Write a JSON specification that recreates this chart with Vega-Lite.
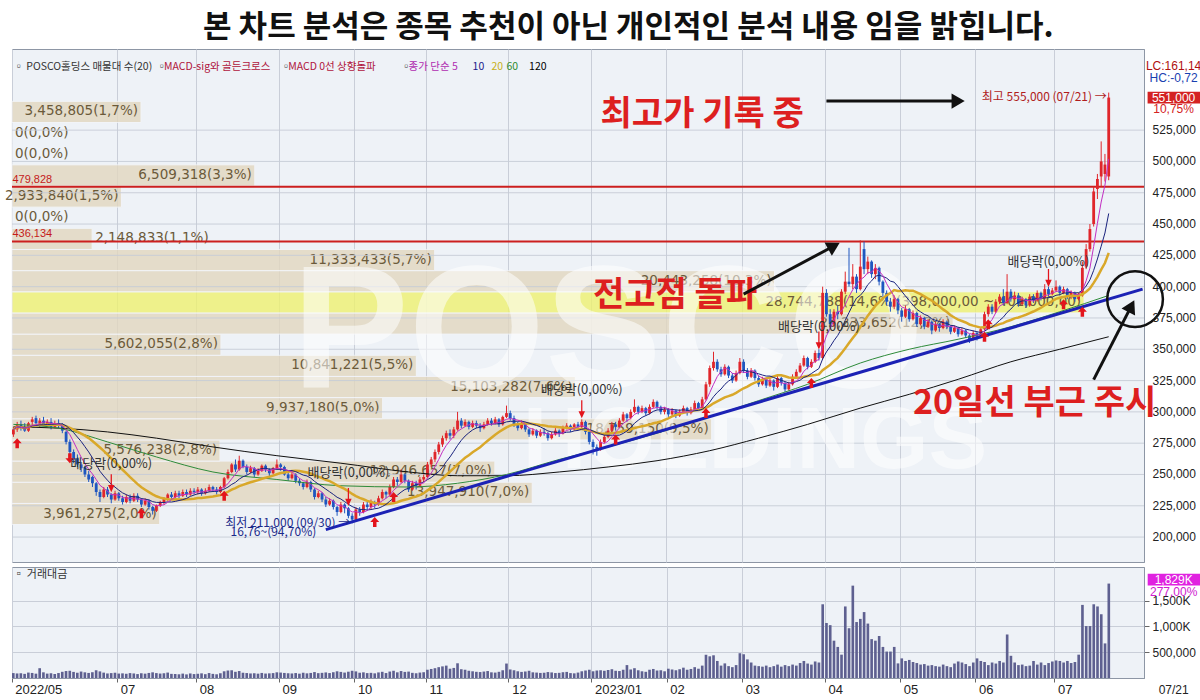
{
"$schema": "https://vega.github.io/schema/vega-lite/v6.json",
"background": "#ffffff",
"padding": {"left": 4, "top": 11, "right": 2, "bottom": 0},
"title": {"text": "본 차트 분석은 종목 추천이 아닌 개인적인 분석 내용 임을 밝힙니다.", "font": "Noto Sans CJK KR", "fontSize": 31, "fontWeight": "bold", "color": "#111111", "anchor": "middle", "offset": 5, "dx": 24},
"config": {
  "font": "Noto Sans CJK KR",
  "view": {"stroke": "#8d96a5", "fill": "#eef2f7"},
  "axis": {"labelFont": "Liberation Sans Narrow, Liberation Sans, sans-serif", "labelFontSize": 12, "labelColor": "#222222", "gridColor": "#c9ced8", "gridWidth": 1, "domainColor": "#8d96a5", "tickColor": "#666666", "labelOverlap": false}
},
"spacing": 3,
"datasets": {
"k": [
{"d":"2022-05-20","o":282,"h":288,"l":280,"c":286,"v":95},
{"d":"2022-05-23","o":286,"h":292,"l":284,"c":290,"v":88},
{"d":"2022-05-24","o":290,"h":293,"l":285,"c":287,"v":92},
{"d":"2022-05-25","o":288,"h":291,"l":284,"c":285,"v":80},
{"d":"2022-05-26","o":285,"h":292,"l":284,"c":291,"v":105},
{"d":"2022-05-27","o":292,"h":296,"l":289,"c":294,"v":98},
{"d":"2022-05-30","o":295,"h":297,"l":290,"c":291,"v":84},
{"d":"2022-05-31","o":291,"h":295,"l":288,"c":293,"v":190},
{"d":"2022-06-02","o":293,"h":296,"l":289,"c":290,"v":110},
{"d":"2022-06-03","o":290,"h":294,"l":288,"c":292,"v":85},
{"d":"2022-06-07","o":292,"h":295,"l":286,"c":288,"v":92},
{"d":"2022-06-08","o":288,"h":293,"l":287,"c":291,"v":78},
{"d":"2022-06-09","o":291,"h":294,"l":287,"c":289,"v":96},
{"d":"2022-06-10","o":289,"h":291,"l":283,"c":285,"v":120},
{"d":"2022-06-13","o":284,"h":285,"l":274,"c":276,"v":135},
{"d":"2022-06-14","o":276,"h":278,"l":266,"c":268,"v":140},
{"d":"2022-06-15","o":268,"h":270,"l":259,"c":262,"v":118},
{"d":"2022-06-16","o":263,"h":266,"l":256,"c":258,"v":102},
{"d":"2022-06-17","o":258,"h":260,"l":252,"c":255,"v":125},
{"d":"2022-06-20","o":256,"h":257,"l":248,"c":250,"v":110},
{"d":"2022-06-21","o":250,"h":253,"l":244,"c":246,"v":98},
{"d":"2022-06-22","o":248,"h":249,"l":240,"c":243,"v":112},
{"d":"2022-06-23","o":243,"h":244,"l":233,"c":236,"v":150},
{"d":"2022-06-24","o":236,"h":238,"l":228,"c":232,"v":128},
{"d":"2022-06-27","o":232,"h":240,"l":231,"c":238,"v":104},
{"d":"2022-06-28","o":238,"h":240,"l":232,"c":234,"v":88},
{"d":"2022-06-29","o":234,"h":235,"l":227,"c":230,"v":95},
{"d":"2022-06-30","o":230,"h":237,"l":229,"c":235,"v":102},
{"d":"2022-07-01","o":235,"h":236,"l":229,"c":231,"v":86},
{"d":"2022-07-04","o":231,"h":233,"l":226,"c":228,"v":90},
{"d":"2022-07-05","o":228,"h":234,"l":227,"c":232,"v":82},
{"d":"2022-07-06","o":232,"h":234,"l":227,"c":229,"v":95},
{"d":"2022-07-07","o":229,"h":235,"l":228,"c":233,"v":88},
{"d":"2022-07-08","o":233,"h":235,"l":228,"c":230,"v":76},
{"d":"2022-07-11","o":230,"h":231,"l":224,"c":226,"v":92},
{"d":"2022-07-12","o":226,"h":231,"l":225,"c":229,"v":84},
{"d":"2022-07-13","o":229,"h":230,"l":222,"c":224,"v":98},
{"d":"2022-07-14","o":224,"h":225,"l":218,"c":221,"v":110},
{"d":"2022-07-15","o":221,"h":226,"l":220,"c":225,"v":95},
{"d":"2022-07-18","o":225,"h":229,"l":224,"c":228,"v":86},
{"d":"2022-07-19","o":228,"h":232,"l":226,"c":231,"v":92},
{"d":"2022-07-20","o":231,"h":235,"l":229,"c":234,"v":105},
{"d":"2022-07-21","o":234,"h":236,"l":230,"c":232,"v":80},
{"d":"2022-07-22","o":232,"h":237,"l":231,"c":235,"v":78},
{"d":"2022-07-25","o":235,"h":237,"l":231,"c":233,"v":72},
{"d":"2022-07-26","o":233,"h":238,"l":232,"c":236,"v":85},
{"d":"2022-07-27","o":236,"h":238,"l":232,"c":234,"v":70},
{"d":"2022-07-28","o":234,"h":239,"l":233,"c":237,"v":88},
{"d":"2022-07-29","o":237,"h":239,"l":234,"c":236,"v":76},
{"d":"2022-08-01","o":236,"h":240,"l":234,"c":238,"v":82},
{"d":"2022-08-02","o":238,"h":239,"l":233,"c":235,"v":90},
{"d":"2022-08-03","o":235,"h":239,"l":234,"c":237,"v":74},
{"d":"2022-08-04","o":237,"h":242,"l":236,"c":240,"v":96},
{"d":"2022-08-05","o":240,"h":241,"l":236,"c":238,"v":80},
{"d":"2022-08-08","o":238,"h":240,"l":234,"c":236,"v":72},
{"d":"2022-08-09","o":236,"h":241,"l":235,"c":240,"v":92},
{"d":"2022-08-10","o":240,"h":248,"l":239,"c":247,"v":130},
{"d":"2022-08-11","o":247,"h":254,"l":246,"c":252,"v":145},
{"d":"2022-08-12","o":252,"h":259,"l":251,"c":258,"v":150},
{"d":"2022-08-16","o":258,"h":262,"l":252,"c":254,"v":120},
{"d":"2022-08-17","o":254,"h":265,"l":253,"c":261,"v":135},
{"d":"2022-08-18","o":261,"h":262,"l":255,"c":256,"v":102},
{"d":"2022-08-19","o":256,"h":258,"l":250,"c":252,"v":96},
{"d":"2022-08-22","o":252,"h":257,"l":251,"c":255,"v":88},
{"d":"2022-08-23","o":255,"h":256,"l":248,"c":250,"v":92},
{"d":"2022-08-24","o":250,"h":255,"l":249,"c":253,"v":84},
{"d":"2022-08-25","o":253,"h":258,"l":252,"c":257,"v":98},
{"d":"2022-08-26","o":257,"h":258,"l":252,"c":254,"v":86},
{"d":"2022-08-29","o":254,"h":255,"l":248,"c":251,"v":90},
{"d":"2022-08-30","o":251,"h":256,"l":250,"c":255,"v":95},
{"d":"2022-08-31","o":255,"h":262,"l":254,"c":258,"v":110},
{"d":"2022-09-01","o":258,"h":259,"l":253,"c":256,"v":105},
{"d":"2022-09-02","o":256,"h":257,"l":249,"c":250,"v":98},
{"d":"2022-09-05","o":250,"h":252,"l":245,"c":247,"v":92},
{"d":"2022-09-06","o":247,"h":252,"l":246,"c":250,"v":88},
{"d":"2022-09-07","o":250,"h":251,"l":243,"c":245,"v":96},
{"d":"2022-09-08","o":245,"h":247,"l":241,"c":243,"v":84},
{"d":"2022-09-13","o":243,"h":244,"l":238,"c":240,"v":102},
{"d":"2022-09-14","o":240,"h":246,"l":239,"c":244,"v":90},
{"d":"2022-09-15","o":244,"h":245,"l":236,"c":238,"v":98},
{"d":"2022-09-16","o":238,"h":239,"l":230,"c":232,"v":115},
{"d":"2022-09-19","o":232,"h":237,"l":231,"c":235,"v":94},
{"d":"2022-09-20","o":235,"h":236,"l":228,"c":230,"v":100},
{"d":"2022-09-21","o":230,"h":232,"l":224,"c":226,"v":108},
{"d":"2022-09-22","o":226,"h":231,"l":225,"c":229,"v":96},
{"d":"2022-09-23","o":229,"h":230,"l":222,"c":224,"v":112},
{"d":"2022-09-26","o":224,"h":225,"l":217,"c":220,"v":130},
{"d":"2022-09-27","o":220,"h":228,"l":219,"c":226,"v":118},
{"d":"2022-09-28","o":226,"h":227,"l":219,"c":223,"v":105},
{"d":"2022-09-29","o":223,"h":224,"l":215,"c":217,"v":122},
{"d":"2022-09-30","o":217,"h":219,"l":211,"c":214,"v":140},
{"d":"2022-10-04","o":214,"h":224,"l":213,"c":222,"v":128},
{"d":"2022-10-05","o":222,"h":224,"l":217,"c":220,"v":102},
{"d":"2022-10-06","o":220,"h":228,"l":219,"c":226,"v":110},
{"d":"2022-10-07","o":226,"h":228,"l":221,"c":224,"v":95},
{"d":"2022-10-11","o":224,"h":230,"l":222,"c":228,"v":100},
{"d":"2022-10-12","o":228,"h":229,"l":223,"c":226,"v":90},
{"d":"2022-10-13","o":226,"h":233,"l":225,"c":231,"v":108},
{"d":"2022-10-14","o":231,"h":238,"l":230,"c":236,"v":120},
{"d":"2022-10-17","o":236,"h":237,"l":231,"c":234,"v":96},
{"d":"2022-10-18","o":234,"h":242,"l":233,"c":240,"v":125},
{"d":"2022-10-19","o":240,"h":248,"l":239,"c":246,"v":140},
{"d":"2022-10-20","o":246,"h":248,"l":241,"c":244,"v":110},
{"d":"2022-10-21","o":244,"h":254,"l":243,"c":250,"v":135},
{"d":"2022-10-24","o":250,"h":251,"l":243,"c":245,"v":118},
{"d":"2022-10-25","o":245,"h":246,"l":236,"c":238,"v":124},
{"d":"2022-10-26","o":238,"h":245,"l":237,"c":243,"v":100},
{"d":"2022-10-27","o":243,"h":245,"l":238,"c":241,"v":92},
{"d":"2022-10-28","o":241,"h":248,"l":240,"c":246,"v":105},
{"d":"2022-10-31","o":246,"h":250,"l":244,"c":248,"v":112},
{"d":"2022-11-01","o":248,"h":260,"l":247,"c":258,"v":160},
{"d":"2022-11-02","o":258,"h":264,"l":256,"c":262,"v":175},
{"d":"2022-11-03","o":262,"h":270,"l":260,"c":268,"v":190},
{"d":"2022-11-04","o":268,"h":276,"l":266,"c":274,"v":210},
{"d":"2022-11-07","o":274,"h":281,"l":272,"c":279,"v":225},
{"d":"2022-11-08","o":279,"h":285,"l":277,"c":283,"v":240},
{"d":"2022-11-09","o":283,"h":286,"l":278,"c":281,"v":180},
{"d":"2022-11-10","o":281,"h":288,"l":279,"c":286,"v":195},
{"d":"2022-11-11","o":286,"h":300,"l":285,"c":293,"v":285},
{"d":"2022-11-14","o":293,"h":295,"l":287,"c":289,"v":170},
{"d":"2022-11-15","o":289,"h":294,"l":288,"c":292,"v":160},
{"d":"2022-11-16","o":292,"h":293,"l":286,"c":288,"v":140},
{"d":"2022-11-17","o":288,"h":293,"l":287,"c":291,"v":130},
{"d":"2022-11-18","o":291,"h":293,"l":287,"c":289,"v":120},
{"d":"2022-11-21","o":289,"h":291,"l":284,"c":287,"v":115},
{"d":"2022-11-22","o":287,"h":292,"l":286,"c":290,"v":125},
{"d":"2022-11-23","o":290,"h":295,"l":289,"c":293,"v":135},
{"d":"2022-11-24","o":293,"h":295,"l":289,"c":291,"v":110},
{"d":"2022-11-25","o":291,"h":296,"l":290,"c":294,"v":105},
{"d":"2022-11-28","o":294,"h":295,"l":288,"c":290,"v":120},
{"d":"2022-11-29","o":290,"h":297,"l":289,"c":296,"v":150},
{"d":"2022-11-30","o":296,"h":305,"l":295,"c":299,"v":280},
{"d":"2022-12-01","o":299,"h":301,"l":293,"c":295,"v":165},
{"d":"2022-12-02","o":295,"h":297,"l":288,"c":290,"v":150},
{"d":"2022-12-05","o":290,"h":292,"l":285,"c":287,"v":130},
{"d":"2022-12-06","o":287,"h":293,"l":286,"c":291,"v":118},
{"d":"2022-12-07","o":291,"h":292,"l":284,"c":286,"v":125},
{"d":"2022-12-08","o":286,"h":287,"l":280,"c":282,"v":140},
{"d":"2022-12-09","o":282,"h":287,"l":281,"c":285,"v":110},
{"d":"2022-12-12","o":285,"h":286,"l":279,"c":281,"v":105},
{"d":"2022-12-13","o":281,"h":286,"l":280,"c":284,"v":98},
{"d":"2022-12-14","o":284,"h":287,"l":281,"c":283,"v":102},
{"d":"2022-12-15","o":283,"h":284,"l":277,"c":279,"v":115},
{"d":"2022-12-16","o":279,"h":284,"l":278,"c":282,"v":108},
{"d":"2022-12-19","o":282,"h":287,"l":281,"c":285,"v":96},
{"d":"2022-12-20","o":285,"h":286,"l":280,"c":283,"v":100},
{"d":"2022-12-21","o":283,"h":289,"l":282,"c":287,"v":112},
{"d":"2022-12-22","o":287,"h":291,"l":286,"c":289,"v":118},
{"d":"2022-12-23","o":289,"h":290,"l":284,"c":286,"v":95},
{"d":"2022-12-26","o":286,"h":291,"l":285,"c":290,"v":90},
{"d":"2022-12-27","o":290,"h":292,"l":286,"c":288,"v":105},
{"d":"2022-12-28","o":288,"h":294,"l":287,"c":292,"v":130},
{"d":"2022-12-29","o":292,"h":293,"l":282,"c":284,"v":145},
{"d":"2022-12-30","o":284,"h":285,"l":274,"c":276,"v":160},
{"d":"2023-01-02","o":276,"h":278,"l":266,"c":272,"v":130},
{"d":"2023-01-03","o":272,"h":274,"l":265,"c":270,"v":145},
{"d":"2023-01-04","o":270,"h":278,"l":269,"c":276,"v":150},
{"d":"2023-01-05","o":276,"h":282,"l":275,"c":280,"v":140},
{"d":"2023-01-06","o":280,"h":287,"l":279,"c":285,"v":155},
{"d":"2023-01-09","o":285,"h":292,"l":284,"c":290,"v":170},
{"d":"2023-01-10","o":290,"h":292,"l":285,"c":288,"v":140},
{"d":"2023-01-11","o":288,"h":295,"l":287,"c":293,"v":135},
{"d":"2023-01-12","o":293,"h":300,"l":292,"c":298,"v":160},
{"d":"2023-01-13","o":298,"h":299,"l":292,"c":295,"v":250},
{"d":"2023-01-16","o":295,"h":302,"l":294,"c":300,"v":165},
{"d":"2023-01-17","o":300,"h":310,"l":299,"c":304,"v":190},
{"d":"2023-01-18","o":304,"h":305,"l":298,"c":300,"v":150},
{"d":"2023-01-19","o":300,"h":305,"l":299,"c":303,"v":130},
{"d":"2023-01-20","o":303,"h":304,"l":297,"c":299,"v":120},
{"d":"2023-01-25","o":299,"h":306,"l":298,"c":304,"v":160},
{"d":"2023-01-26","o":304,"h":310,"l":303,"c":308,"v":175},
{"d":"2023-01-27","o":308,"h":309,"l":302,"c":304,"v":145},
{"d":"2023-01-30","o":304,"h":305,"l":298,"c":300,"v":150},
{"d":"2023-01-31","o":300,"h":304,"l":298,"c":302,"v":130},
{"d":"2023-02-01","o":302,"h":303,"l":296,"c":298,"v":180},
{"d":"2023-02-02","o":298,"h":303,"l":297,"c":301,"v":165},
{"d":"2023-02-03","o":301,"h":302,"l":295,"c":297,"v":150},
{"d":"2023-02-06","o":297,"h":302,"l":296,"c":300,"v":170},
{"d":"2023-02-07","o":300,"h":305,"l":299,"c":303,"v":200},
{"d":"2023-02-08","o":303,"h":304,"l":297,"c":299,"v":160},
{"d":"2023-02-09","o":299,"h":304,"l":298,"c":302,"v":175},
{"d":"2023-02-10","o":302,"h":309,"l":301,"c":307,"v":210},
{"d":"2023-02-13","o":307,"h":308,"l":301,"c":303,"v":180},
{"d":"2023-02-14","o":303,"h":312,"l":302,"c":310,"v":240},
{"d":"2023-02-15","o":310,"h":324,"l":309,"c":322,"v":450},
{"d":"2023-02-16","o":322,"h":337,"l":320,"c":335,"v":420},
{"d":"2023-02-17","o":335,"h":348,"l":333,"c":340,"v":440},
{"d":"2023-02-20","o":340,"h":342,"l":332,"c":334,"v":330},
{"d":"2023-02-21","o":334,"h":336,"l":328,"c":330,"v":240},
{"d":"2023-02-22","o":330,"h":338,"l":329,"c":336,"v":283},
{"d":"2023-02-23","o":336,"h":337,"l":327,"c":329,"v":230},
{"d":"2023-02-24","o":329,"h":331,"l":323,"c":325,"v":210},
{"d":"2023-02-27","o":325,"h":333,"l":324,"c":331,"v":250},
{"d":"2023-02-28","o":331,"h":343,"l":330,"c":340,"v":480},
{"d":"2023-03-02","o":340,"h":342,"l":331,"c":333,"v":460},
{"d":"2023-03-03","o":333,"h":335,"l":326,"c":328,"v":360},
{"d":"2023-03-06","o":328,"h":335,"l":327,"c":333,"v":300},
{"d":"2023-03-07","o":333,"h":334,"l":325,"c":327,"v":240},
{"d":"2023-03-08","o":327,"h":329,"l":320,"c":322,"v":230},
{"d":"2023-03-09","o":322,"h":328,"l":321,"c":326,"v":220},
{"d":"2023-03-10","o":326,"h":327,"l":319,"c":321,"v":240},
{"d":"2023-03-13","o":321,"h":327,"l":320,"c":325,"v":210},
{"d":"2023-03-14","o":325,"h":326,"l":317,"c":320,"v":230},
{"d":"2023-03-15","o":320,"h":329,"l":319,"c":327,"v":260},
{"d":"2023-03-16","o":327,"h":328,"l":321,"c":323,"v":220},
{"d":"2023-03-17","o":323,"h":324,"l":316,"c":318,"v":250},
{"d":"2023-03-20","o":318,"h":324,"l":317,"c":322,"v":230},
{"d":"2023-03-21","o":322,"h":330,"l":321,"c":328,"v":260},
{"d":"2023-03-22","o":328,"h":334,"l":327,"c":332,"v":240},
{"d":"2023-03-23","o":332,"h":339,"l":331,"c":337,"v":290},
{"d":"2023-03-24","o":337,"h":345,"l":336,"c":343,"v":330},
{"d":"2023-03-27","o":343,"h":344,"l":334,"c":336,"v":280},
{"d":"2023-03-28","o":336,"h":342,"l":335,"c":340,"v":260},
{"d":"2023-03-29","o":340,"h":349,"l":339,"c":347,"v":320},
{"d":"2023-03-30","o":347,"h":350,"l":341,"c":343,"v":300},
{"d":"2023-03-31","o":343,"h":400,"l":342,"c":395,"v":1428},
{"d":"2023-04-03","o":395,"h":398,"l":376,"c":378,"v":1066},
{"d":"2023-04-04","o":378,"h":382,"l":366,"c":370,"v":1024},
{"d":"2023-04-05","o":370,"h":382,"l":368,"c":380,"v":723},
{"d":"2023-04-06","o":380,"h":385,"l":374,"c":378,"v":602},
{"d":"2023-04-07","o":378,"h":398,"l":377,"c":396,"v":452},
{"d":"2023-04-10","o":396,"h":412,"l":394,"c":404,"v":1386},
{"d":"2023-04-11","o":404,"h":431,"l":400,"c":402,"v":964},
{"d":"2023-04-12","o":402,"h":418,"l":398,"c":408,"v":1789},
{"d":"2023-04-13","o":408,"h":410,"l":395,"c":398,"v":1084},
{"d":"2023-04-14","o":398,"h":437,"l":397,"c":416,"v":1145},
{"d":"2023-04-17","o":430,"h":436,"l":410,"c":414,"v":1277},
{"d":"2023-04-18","o":414,"h":424,"l":410,"c":420,"v":1054},
{"d":"2023-04-19","o":420,"h":421,"l":407,"c":410,"v":753},
{"d":"2023-04-20","o":410,"h":418,"l":406,"c":415,"v":723},
{"d":"2023-04-21","o":415,"h":416,"l":401,"c":404,"v":813},
{"d":"2023-04-24","o":404,"h":405,"l":392,"c":395,"v":602},
{"d":"2023-04-25","o":395,"h":397,"l":385,"c":388,"v":512},
{"d":"2023-04-26","o":388,"h":391,"l":380,"c":384,"v":512},
{"d":"2023-04-27","o":384,"h":393,"l":382,"c":390,"v":602},
{"d":"2023-04-28","o":390,"h":391,"l":378,"c":381,"v":283},
{"d":"2023-05-02","o":381,"h":383,"l":372,"c":376,"v":380},
{"d":"2023-05-03","o":376,"h":385,"l":375,"c":382,"v":330},
{"d":"2023-05-04","o":382,"h":383,"l":372,"c":374,"v":350},
{"d":"2023-05-08","o":374,"h":381,"l":373,"c":379,"v":310},
{"d":"2023-05-09","o":379,"h":380,"l":368,"c":370,"v":290},
{"d":"2023-05-10","o":370,"h":377,"l":369,"c":375,"v":260},
{"d":"2023-05-11","o":375,"h":376,"l":366,"c":368,"v":270},
{"d":"2023-05-12","o":368,"h":374,"l":367,"c":372,"v":240},
{"d":"2023-05-15","o":372,"h":373,"l":362,"c":365,"v":250},
{"d":"2023-05-16","o":365,"h":372,"l":364,"c":370,"v":230},
{"d":"2023-05-17","o":370,"h":371,"l":364,"c":367,"v":220},
{"d":"2023-05-18","o":367,"h":374,"l":366,"c":372,"v":260},
{"d":"2023-05-19","o":372,"h":373,"l":366,"c":368,"v":230},
{"d":"2023-05-22","o":368,"h":369,"l":362,"c":364,"v":210},
{"d":"2023-05-23","o":364,"h":369,"l":363,"c":367,"v":280},
{"d":"2023-05-24","o":367,"h":368,"l":360,"c":362,"v":320},
{"d":"2023-05-25","o":362,"h":367,"l":361,"c":365,"v":300},
{"d":"2023-05-26","o":365,"h":366,"l":359,"c":361,"v":270},
{"d":"2023-05-30","o":361,"h":362,"l":355,"c":358,"v":230},
{"d":"2023-05-31","o":358,"h":365,"l":357,"c":363,"v":300},
{"d":"2023-06-01","o":363,"h":364,"l":357,"c":360,"v":380},
{"d":"2023-06-02","o":360,"h":367,"l":359,"c":366,"v":330},
{"d":"2023-06-05","o":366,"h":380,"l":365,"c":378,"v":310},
{"d":"2023-06-07","o":378,"h":386,"l":376,"c":384,"v":250},
{"d":"2023-06-08","o":384,"h":386,"l":378,"c":380,"v":300},
{"d":"2023-06-09","o":380,"h":390,"l":379,"c":388,"v":280},
{"d":"2023-06-12","o":388,"h":394,"l":386,"c":392,"v":330},
{"d":"2023-06-13","o":392,"h":398,"l":385,"c":387,"v":300},
{"d":"2023-06-14","o":387,"h":410,"l":386,"c":396,"v":843},
{"d":"2023-06-15","o":396,"h":398,"l":388,"c":390,"v":430},
{"d":"2023-06-16","o":390,"h":396,"l":389,"c":393,"v":300},
{"d":"2023-06-19","o":393,"h":395,"l":384,"c":386,"v":250},
{"d":"2023-06-20","o":386,"h":392,"l":385,"c":390,"v":260},
{"d":"2023-06-21","o":390,"h":391,"l":383,"c":385,"v":230},
{"d":"2023-06-22","o":385,"h":394,"l":384,"c":392,"v":240},
{"d":"2023-06-23","o":392,"h":394,"l":387,"c":389,"v":330},
{"d":"2023-06-26","o":389,"h":397,"l":388,"c":395,"v":260},
{"d":"2023-06-27","o":395,"h":396,"l":389,"c":391,"v":300},
{"d":"2023-06-28","o":391,"h":402,"l":390,"c":398,"v":250},
{"d":"2023-06-29","o":398,"h":400,"l":392,"c":394,"v":290},
{"d":"2023-06-30","o":394,"h":399,"l":393,"c":397,"v":320},
{"d":"2023-07-03","o":397,"h":405,"l":396,"c":400,"v":340},
{"d":"2023-07-04","o":400,"h":401,"l":393,"c":395,"v":330},
{"d":"2023-07-05","o":395,"h":400,"l":394,"c":398,"v":300},
{"d":"2023-07-06","o":398,"h":399,"l":390,"c":392,"v":330},
{"d":"2023-07-07","o":392,"h":397,"l":390,"c":395,"v":290},
{"d":"2023-07-10","o":395,"h":396,"l":388,"c":390,"v":310},
{"d":"2023-07-11","o":390,"h":395,"l":389,"c":393,"v":452},
{"d":"2023-07-12","o":393,"h":420,"l":392,"c":415,"v":1416},
{"d":"2023-07-13","o":416,"h":434,"l":414,"c":430,"v":1006},
{"d":"2023-07-14","o":430,"h":450,"l":428,"c":446,"v":1006},
{"d":"2023-07-17","o":450,"h":480,"l":448,"c":476,"v":1428},
{"d":"2023-07-18","o":478,"h":490,"l":470,"c":486,"v":1386},
{"d":"2023-07-19","o":488,"h":516,"l":480,"c":500,"v":1235},
{"d":"2023-07-20","o":490,"h":506,"l":484,"c":497.5,"v":670},
{"d":"2023-07-21","o":488,"h":555,"l":485,"c":551,"v":1829},
{"d":"2023-07-24"},{"d":"2023-07-25"},{"d":"2023-07-26"},{"d":"2023-07-27"},{"d":"2023-07-28"},{"d":"2023-07-31"},{"d":"2023-08-01"},{"d":"2023-08-02"},{"d":"2023-08-03"}
],
"m": [
{"d":"2022-05-20","s":"60","p":290},{"d":"2022-06-09","s":"60","p":287},{"d":"2022-06-28","s":"60","p":276},{"d":"2022-07-15","s":"60","p":264},{"d":"2022-08-05","s":"60","p":252},{"d":"2022-08-31","s":"60","p":246},{"d":"2022-09-27","s":"60","p":241},{"d":"2022-10-25","s":"60","p":240},{"d":"2022-11-11","s":"60","p":243},{"d":"2022-11-30","s":"60","p":250},{"d":"2022-12-20","s":"60","p":262},{"d":"2023-01-06","s":"60","p":272},{"d":"2023-01-27","s":"60","p":283},{"d":"2023-02-16","s":"60","p":296},{"d":"2023-03-08","s":"60","p":309},{"d":"2023-03-27","s":"60","p":322},{"d":"2023-04-14","s":"60","p":339},{"d":"2023-05-04","s":"60","p":350},{"d":"2023-05-24","s":"60","p":358},{"d":"2023-06-15","s":"60","p":368},{"d":"2023-07-04","s":"60","p":380},{"d":"2023-07-21","s":"60","p":393},
{"d":"2022-05-20","s":"120","p":288},{"d":"2022-06-09","s":"120","p":287},{"d":"2022-06-28","s":"120","p":284},{"d":"2022-07-15","s":"120","p":279},{"d":"2022-08-05","s":"120","p":272},{"d":"2022-08-31","s":"120","p":265},{"d":"2022-09-27","s":"120","p":259},{"d":"2022-10-25","s":"120","p":252},{"d":"2022-11-11","s":"120","p":249},{"d":"2022-11-30","s":"120","p":249},{"d":"2022-12-20","s":"120","p":252},{"d":"2023-01-06","s":"120","p":256},{"d":"2023-01-27","s":"120","p":261},{"d":"2023-02-16","s":"120","p":269},{"d":"2023-03-08","s":"120","p":279},{"d":"2023-03-27","s":"120","p":290},{"d":"2023-04-14","s":"120","p":303},{"d":"2023-05-04","s":"120","p":314},{"d":"2023-05-24","s":"120","p":326},{"d":"2023-06-15","s":"120","p":340},{"d":"2023-07-04","s":"120","p":350},{"d":"2023-07-21","s":"120","p":360}
],
"vp": [
{"lo":210.0,"hi":226.9,"v":3961275,"t":"3,961,275(2,0%)"},
{"lo":226.9,"hi":243.8,"v":13947910,"t":"13,947,910(7,0%)"},
{"lo":243.8,"hi":260.7,"v":12946657,"t":"12,946,657(7,0%)"},
{"lo":260.7,"hi":277.6,"v":5576238,"t":"5,576,238(2,8%)"},
{"lo":277.6,"hi":294.5,"v":18759150,"t":"18,759,150(9,5%)"},
{"lo":294.5,"hi":311.4,"v":9937180,"t":"9,937,180(5,0%)"},
{"lo":311.4,"hi":328.3,"v":15103282,"t":"15,103,282(7,6%)"},
{"lo":328.3,"hi":345.2,"v":10841221,"t":"10,841,221(5,5%)"},
{"lo":345.2,"hi":362.1,"v":5602055,"t":"5,602,055(2,8%)"},
{"lo":362.1,"hi":379.0,"v":25233652,"t":"25,233,652(12,7%)"},
{"lo":379.0,"hi":395.9,"v":28744788,"t":"28,744,788(14,6%)(398,000,00 ~ 401,000,00)"},
{"lo":395.9,"hi":412.8,"v":20443258,"t":"20,443,258(10,3%)"},
{"lo":412.8,"hi":429.7,"v":11333433,"t":"11,333,433(5,7%)"},
{"lo":429.7,"hi":446.6,"v":2148833,"t":"2,148,833(1,1%)"},
{"lo":446.6,"hi":463.5,"v":0,"t":"0(0,0%)"},
{"lo":463.5,"hi":480.4,"v":2933840,"t":"2,933,840(1,5%)"},
{"lo":480.4,"hi":497.3,"v":6509318,"t":"6,509,318(3,3%)"},
{"lo":497.3,"hi":514.2,"v":0,"t":"0(0,0%)"},
{"lo":514.2,"hi":531.1,"v":0,"t":"0(0,0%)"},
{"lo":531.1,"hi":548.0,"v":3458805,"t":"3,458,805(1,7%)"}
],
"yt": [
{"d":"2023-08-03","p":200,"t":"200,000"},{"d":"2023-08-03","p":225,"t":"225,000"},{"d":"2023-08-03","p":250,"t":"250,000"},{"d":"2023-08-03","p":275,"t":"275,000"},{"d":"2023-08-03","p":300,"t":"300,000"},{"d":"2023-08-03","p":325,"t":"325,000"},{"d":"2023-08-03","p":350,"t":"350,000"},{"d":"2023-08-03","p":375,"t":"375,000"},{"d":"2023-08-03","p":400,"t":"400,000"},{"d":"2023-08-03","p":425,"t":"425,000"},{"d":"2023-08-03","p":450,"t":"450,000"},{"d":"2023-08-03","p":475,"t":"475,000"},{"d":"2023-08-03","p":500,"t":"500,000"},{"d":"2023-08-03","p":525,"t":"525,000"}
],
"sig": [
{"d":"2022-05-23","p":275,"s":"up"},{"d":"2022-07-11","p":219,"s":"up"},{"d":"2022-08-10","p":233,"s":"up"},{"d":"2022-10-12","p":212,"s":"up"},{"d":"2022-10-19","p":232,"s":"up"},{"d":"2023-01-10","p":278,"s":"up"},{"d":"2023-02-15","p":299,"s":"up"},{"d":"2023-03-28","p":323,"s":"up"},{"d":"2023-06-05","p":360,"s":"up"},{"d":"2023-06-07","p":370,"s":"up"},{"d":"2023-07-05","p":386,"s":"up"},{"d":"2023-07-12","p":380,"s":"up"},{"d":"2022-06-14","p":263,"s":"down"}
],
"ex": [
{"d":"2022-06-29","p":243},{"d":"2022-09-29","p":232},{"d":"2022-12-28","p":302},{"d":"2023-03-30","p":357},{"d":"2023-06-29","p":407}
],
"ann": [
{"d":"2023-01-04","p":537.2,"t":"최고가 기록 중","k":"big"},
{"d":"2023-01-02","p":392.3,"t":"전고점 돌파","k":"big"},
{"d":"2023-05-08","p":306.2,"t":"20일선 부근 주시","k":"big"},
{"d":"2022-06-29","p":258.4,"t":"배당락(0,00%)","k":"ex"},
{"d":"2022-09-29","p":251.4,"t":"배당락(0,00%)","k":"ex"},
{"d":"2022-12-28","p":317.1,"t":"배당락(0,00%)","k":"ex"},
{"d":"2023-03-30","p":368,"t":"배당락(0,00%)","k":"ex"},
{"d":"2023-06-29","p":420,"t":"배당락(0,00%)","k":"ex"},
{"d":"2022-09-30","p":211.5,"t":"최저 211,000 (09/30) →","k":"low"},
{"d":"2022-09-19","p":203.7,"t":"16,76~(94,70%)","k":"low"},
{"d":"2023-07-21","p":551.6,"t":"최고 555,000 (07/21) →","k":"high"}
],
"arr": [
{"g":"a1","d":"2023-04-03","p":548.2},{"g":"a1","d":"2023-05-24","p":548.2},
{"g":"a2","d":"2023-03-02","p":394},{"g":"a2","d":"2023-04-05","p":432.5},
{"g":"a3","d":"2023-07-17","p":325.8},{"g":"a3","d":"2023-07-31","p":384.4}
],
"hl": [{"d":"2022-05-20","p":479.828,"t":"479,828"},{"d":"2022-05-20","p":436.134,"t":"436,134"}],
"tl": [{"d":"2022-09-21","p":206},{"d":"2023-08-03","p":398}],
"hdr": [
{"d":"2022-05-20","p":575.6,"t":"▫ POSCO홀딩스 매물대 수(20)","c":"name"},
{"d":"2022-07-15","p":575.6,"t":"▫","c":"name"},
{"d":"2022-07-19","p":575.6,"t":"MACD-sig와 골든크로스","c":"macd"},
{"d":"2022-09-01","p":575.6,"t":"▫","c":"name"},
{"d":"2022-09-05","p":575.6,"t":"MACD 0선 상향돌파","c":"macd"},
{"d":"2022-10-21","p":575.6,"t":"▫","c":"name"},
{"d":"2022-10-25","p":575.6,"t":"종가 단순 5","c":"ma5"},
{"d":"2022-11-17","p":575.6,"t":"10","c":"ma10"},
{"d":"2022-11-24","p":575.6,"t":"20","c":"ma20"},
{"d":"2022-11-30","p":575.6,"t":"60","c":"ma60"},
{"d":"2022-12-08","p":575.6,"t":"120","c":"ma120"}
],
"rs": [
{"d":"2023-08-03","p":551,"t":"551,000","c":"w"},{"d":"2023-08-03","p":542,"t":"10,75%","c":"r"},{"d":"2023-08-03","p":576.5,"t":"LC:161,14","c":"r2"},{"d":"2023-08-03","p":567,"t":"HC:-0,72","c":"b"}
]
},
"vconcat": [
{
 "width": 1132, "height": 513,
 "resolve": {"scale": {"x": "independent", "color": "independent"}},
 "layer": [
  {
   "data": {"name": "vp"},
   "layer": [
    {"mark": {"type": "bar", "orient": "horizontal", "opacity": 0.8, "stroke": "#f3f5f9", "strokeWidth": 1},
     "encoding": {
      "x": {"field": "v", "type": "quantitative", "scale": {"domain": [0, 30350000], "nice": false}, "axis": null},
      "y": {"field": "lo", "type": "quantitative", "title": null, "scale": {"domain": [184.1, 585.8], "nice": false, "zero": false},
            "axis": {"orient": "right", "labels": false, "grid": false, "ticks": false, "domain": true, "title": null}},
      "y2": {"field": "hi"},
      "color": {"condition": {"test": "datum.v > 28000000", "value": "#eef171"}, "value": "#e2d7c0"}
     }},
    {"transform": [{"filter": "datum.v >= 2600000"}],
     "mark": {"type": "text", "align": "right", "baseline": "bottom", "dx": -3, "dy": -4, "font": "DejaVu Sans", "fontSize": 13.5, "color": "#6b5a3a"},
     "encoding": {"x": {"field": "v", "type": "quantitative"}, "y": {"field": "lo", "type": "quantitative", "title": null}, "text": {"field": "t"}}},
    {"transform": [{"filter": "datum.v < 2600000"}],
     "mark": {"type": "text", "align": "left", "baseline": "bottom", "dx": 3, "dy": -4, "font": "DejaVu Sans", "fontSize": 13.5, "color": "#6b5a3a"},
     "encoding": {"x": {"field": "v", "type": "quantitative"}, "y": {"field": "lo", "type": "quantitative", "title": null}, "text": {"field": "t"}}}
   ]
  },
  {
   "resolve": {"scale": {"color": "independent"}},
   "layer": [
    {"data": {"name": "k"}, "mark": {"type": "rule", "opacity": 0},
     "encoding": {"x": {"field": "d", "type": "ordinal", "title": null, "scale": {"type": "band", "paddingInner": 0.25, "paddingOuter": 0},
       "axis": {"values": ["2022-05-20","2022-07-01","2022-08-01","2022-09-01","2022-10-04","2022-11-01","2022-12-01","2023-01-02","2023-02-01","2023-03-02","2023-04-03","2023-05-02","2023-06-01","2023-07-03"], "labels": false, "ticks": false, "domain": false, "grid": true, "bandPosition": 0, "title": null}}}},
    {"data": {"name": "yt"}, "mark": {"type": "rule", "color": "#c6ccd6", "strokeWidth": 1, "opacity": 0.9},
     "encoding": {"y": {"field": "p", "type": "quantitative", "title": null, "axis": {"orient": "right", "labels": false, "grid": false, "ticks": false, "domain": true, "title": null}}}},
    {"data": {"values": [{"d": "2023-01-06", "p": 362, "t": "POSCO"}]},
     "mark": {"type": "text", "font": "Liberation Sans", "fontWeight": "bold", "fontSize": 175, "color": "#ffffff", "opacity": 0.55, "align": "center", "baseline": "middle"},
     "encoding": {"x": {"field": "d", "type": "ordinal"}, "y": {"field": "p", "type": "quantitative", "title": null}, "text": {"field": "t"}}},
    {"data": {"values": [{"d": "2023-03-07", "p": 276, "t": "HOLDINGS"}]},
     "mark": {"type": "text", "font": "Liberation Sans Narrow, Liberation Sans, sans-serif", "fontWeight": "bold", "fontSize": 88, "color": "#ffffff", "opacity": 0.55, "align": "center", "baseline": "middle"},
     "encoding": {"x": {"field": "d", "type": "ordinal"}, "y": {"field": "p", "type": "quantitative", "title": null}, "text": {"field": "t"}}},
    {"data": {"name": "hl"}, "mark": {"type": "rule", "color": "#cc1f1f", "strokeWidth": 2},
     "encoding": {"y": {"field": "p", "type": "quantitative", "title": null}}},
    {"data": {"name": "hl"}, "mark": {"type": "text", "align": "left", "baseline": "bottom", "dx": -1, "dy": -2, "fontSize": 11, "font": "Liberation Sans Narrow, Liberation Sans, sans-serif", "color": "#c41a1a"},
     "encoding": {"x": {"field": "d", "type": "ordinal"}, "y": {"field": "p", "type": "quantitative", "title": null}, "text": {"field": "t"}}},
    {"data": {"name": "k"}, "mark": {"type": "rule", "strokeWidth": 1},
     "encoding": {"x": {"field": "d", "type": "ordinal"},
       "y": {"field": "l", "type": "quantitative", "title": null},
       "y2": {"field": "h"},
       "color": {"condition": {"test": "datum.c >= datum.o", "value": "#e0262b"}, "value": "#1f56c0"}}},
    {"data": {"name": "k"}, "mark": {"type": "bar"},
     "encoding": {"x": {"field": "d", "type": "ordinal"}, "y": {"field": "o", "type": "quantitative", "title": null}, "y2": {"field": "c"},
       "color": {"condition": {"test": "datum.c >= datum.o", "value": "#e0262b"}, "value": "#1f56c0"}}},
    {"data": {"name": "m"}, "transform": [{"filter": "datum.s == '120'"}], "mark": {"type": "line", "color": "#111111", "strokeWidth": 1, "interpolate": "monotone"},
     "encoding": {"x": {"field": "d", "type": "ordinal"}, "y": {"field": "p", "type": "quantitative", "title": null}}},
    {"data": {"name": "m"}, "transform": [{"filter": "datum.s == '60'"}], "mark": {"type": "line", "color": "#2e8b3a", "strokeWidth": 1, "interpolate": "monotone"},
     "encoding": {"x": {"field": "d", "type": "ordinal"}, "y": {"field": "p", "type": "quantitative", "title": null}}},
    {"data": {"name": "k"}, "transform": [{"filter": "isValid(datum.c)"}, {"window": [{"op": "mean", "field": "c", "as": "m20"}], "frame": [-19, 0], "sort": [{"field": "d"}]}],
     "mark": {"type": "line", "color": "#d9a82a", "strokeWidth": 2.5},
     "encoding": {"x": {"field": "d", "type": "ordinal"}, "y": {"field": "m20", "type": "quantitative", "title": null}}},
    {"data": {"name": "k"}, "transform": [{"filter": "isValid(datum.c)"}, {"window": [{"op": "mean", "field": "c", "as": "m10"}], "frame": [-9, 0], "sort": [{"field": "d"}]}],
     "mark": {"type": "line", "color": "#1a237e", "strokeWidth": 1},
     "encoding": {"x": {"field": "d", "type": "ordinal"}, "y": {"field": "m10", "type": "quantitative", "title": null}}},
    {"data": {"name": "k"}, "transform": [{"filter": "isValid(datum.c)"}, {"window": [{"op": "mean", "field": "c", "as": "m5"}], "frame": [-4, 0], "sort": [{"field": "d"}]}],
     "mark": {"type": "line", "color": "#c22fc2", "strokeWidth": 1},
     "encoding": {"x": {"field": "d", "type": "ordinal"}, "y": {"field": "m5", "type": "quantitative", "title": null}}},
    {"data": {"name": "tl"}, "mark": {"type": "line", "color": "#1c22b5", "strokeWidth": 3},
     "encoding": {"x": {"field": "d", "type": "ordinal"}, "y": {"field": "p", "type": "quantitative", "title": null}}},
    {"data": {"name": "sig"}, "mark": {"type": "point", "filled": true, "opacity": 1, "size": 100, "color": "#e3141c"},
     "encoding": {"x": {"field": "d", "type": "ordinal"}, "y": {"field": "p", "type": "quantitative", "title": null},
       "shape": {"field": "s", "type": "nominal", "scale": {"domain": ["up", "down"], "range": ["M0,-1L0.9,0L0.35,0L0.35,1L-0.35,1L-0.35,0L-0.9,0Z", "M0,1L0.9,0L0.35,0L0.35,-1L-0.35,-1L-0.35,0L-0.9,0Z"]}, "legend": null}}},
    {"data": {"name": "ex"}, "mark": {"type": "point", "filled": true, "opacity": 1, "size": 324, "color": "#e3141c", "shape": "M-0.07,-1L0.07,-1L0.07,0.2L0.36,0.2L0,1L-0.36,0.2L-0.07,0.2Z"},
     "encoding": {"x": {"field": "d", "type": "ordinal"}, "y": {"field": "p", "type": "quantitative", "title": null}}},
    {"data": {"name": "ann"}, "transform": [{"filter": "datum.k == 'ex'"}], "mark": {"type": "text", "align": "center", "baseline": "middle", "fontSize": 13, "color": "#333333"},
     "encoding": {"x": {"field": "d", "type": "ordinal"}, "y": {"field": "p", "type": "quantitative", "title": null}, "text": {"field": "t"}}},
    {"data": {"name": "ann"}, "transform": [{"filter": "datum.k == 'low'"}], "mark": {"type": "text", "align": "right", "baseline": "middle", "dx": -2, "fontSize": 12, "color": "#1a2a8a"},
     "encoding": {"x": {"field": "d", "type": "ordinal"}, "y": {"field": "p", "type": "quantitative", "title": null}, "text": {"field": "t"}}},
    {"data": {"name": "ann"}, "transform": [{"filter": "datum.k == 'high'"}], "mark": {"type": "text", "align": "right", "baseline": "middle", "dx": -2, "fontSize": 12, "color": "#b01c1c"},
     "encoding": {"x": {"field": "d", "type": "ordinal"}, "y": {"field": "p", "type": "quantitative", "title": null}, "text": {"field": "t"}}},
    {"data": {"name": "ann"}, "transform": [{"filter": "datum.k == 'big'"}], "mark": {"type": "text", "align": "left", "baseline": "middle", "fontSize": 34, "fontWeight": "bold", "color": "#dd1f1f"},
     "encoding": {"x": {"field": "d", "type": "ordinal"}, "y": {"field": "p", "type": "quantitative", "title": null}, "text": {"field": "t"}}},
    {"data": {"name": "arr"}, "mark": {"type": "line", "color": "#111111", "strokeWidth": 3},
     "encoding": {"x": {"field": "d", "type": "ordinal"}, "y": {"field": "p", "type": "quantitative", "title": null}, "detail": {"field": "g"}}},
    {"data": {"values": [{"d": "2023-05-24", "p": 548.2}]}, "mark": {"type": "point", "shape": "triangle-right", "filled": true, "opacity": 1, "size": 230, "color": "#111111", "angle": 0},
     "encoding": {"x": {"field": "d", "type": "ordinal"}, "y": {"field": "p", "type": "quantitative", "title": null}}},
    {"data": {"values": [{"d": "2023-04-05", "p": 432.5}]}, "mark": {"type": "point", "shape": "triangle-right", "filled": true, "opacity": 1, "size": 230, "color": "#111111", "angle": 331},
     "encoding": {"x": {"field": "d", "type": "ordinal"}, "y": {"field": "p", "type": "quantitative", "title": null}}},
    {"data": {"values": [{"d": "2023-07-31", "p": 384.4}]}, "mark": {"type": "point", "shape": "triangle-right", "filled": true, "opacity": 1, "size": 230, "color": "#111111", "angle": 297},
     "encoding": {"x": {"field": "d", "type": "ordinal"}, "y": {"field": "p", "type": "quantitative", "title": null}}},
    {"data": {"values": [{"d": "2023-08-01", "p": 390}]}, "mark": {"type": "point", "shape": "circle", "filled": false, "opacity": 1, "size": 3100, "color": "#111111", "strokeWidth": 2.5},
     "encoding": {"x": {"field": "d", "type": "ordinal"}, "y": {"field": "p", "type": "quantitative", "title": null}}},
    {"data": {"name": "hdr"}, "mark": {"type": "text", "align": "left", "baseline": "middle", "fontSize": 10.5},
     "encoding": {"x": {"field": "d", "type": "ordinal"}, "y": {"field": "p", "type": "quantitative", "title": null}, "text": {"field": "t"},
       "color": {"field": "c", "type": "nominal", "scale": {"domain": ["name","macd","ma5","ma10","ma20","ma60","ma120"], "range": ["#333333","#b0143c","#b02cb0","#1a1a8a","#c8b020","#2e8b2e","#000000"]}, "legend": null}}},
    {"data": {"name": "yt"}, "mark": {"type": "text", "align": "left", "baseline": "middle", "dx": 10, "fontSize": 12, "font": "Liberation Sans Narrow, Liberation Sans, sans-serif", "color": "#222222"},
     "encoding": {"x": {"field": "d", "type": "ordinal"}, "y": {"field": "p", "type": "quantitative", "title": null}, "text": {"field": "t"}}},
    {"data": {"values": [{"d": "2023-08-03", "p": 551}]}, "mark": {"type": "point", "shape": "M-1,-0.21L1,-0.21L1,0.21L-1,0.21Z", "size": 3136, "filled": true, "opacity": 1, "color": "#d42222", "xOffset": 33},
     "encoding": {"x": {"field": "d", "type": "ordinal"}, "y": {"field": "p", "type": "quantitative", "title": null}}},
    {"data": {"name": "rs"},
     "mark": {"type": "text", "align": "center", "baseline": "middle", "dx": 31, "fontSize": 12, "font": "Liberation Sans Narrow, Liberation Sans, sans-serif"},
     "encoding": {"x": {"field": "d", "type": "ordinal"}, "y": {"field": "p", "type": "quantitative", "title": null}, "text": {"field": "t"},
       "color": {"field": "c", "type": "nominal", "scale": {"domain": ["w","r","r2","b"], "range": ["#ffffff","#d42222","#b01010","#1840b0"]}, "legend": null}}}
   ]
  }
 ]
},
{
 "width": 1132, "height": 111,
 "resolve": {"scale": {"color": "independent"}},
 "layer": [
  {"data": {"name": "k"}, "mark": {"type": "rule", "opacity": 0},
   "encoding": {"x": {"field": "d", "type": "ordinal", "title": null, "scale": {"type": "band", "paddingInner": 0.3, "paddingOuter": 0},
     "axis": {"values": ["2022-05-20","2022-07-01","2022-08-01","2022-09-01","2022-10-04","2022-11-01","2022-12-01","2023-01-02","2023-02-01","2023-03-02","2023-04-03","2023-05-02","2023-06-01","2023-07-03"],
       "labelExpr": "datum.value == '2022-05-20' ? '2022/05' : datum.value == '2023-01-02' ? '2023/01' : substring(datum.value, 5, 7)",
       "labelAlign": "left", "labelOffset": 2, "labelPadding": 1, "labelAngle": 0, "tickSize": 4, "grid": true, "bandPosition": 0, "title": null, "labelFontSize": 13}}}},
  {"data": {"name": "k"}, "mark": {"type": "bar", "color": "#5e6090"},
   "encoding": {"x": {"field": "d", "type": "ordinal"}, "y": {"field": "v", "type": "quantitative", "title": null, "scale": {"domain": [0, 2150], "nice": false},
     "axis": {"orient": "right", "values": [500, 1000, 1500], "labelExpr": "datum.value >= 1000 ? format(datum.value, ',') + 'K' : format(datum.value * 1000, ',')", "grid": true, "tickSize": 5, "labelPadding": 3, "title": null}}}},
  {"data": {"values": [{"d": "2022-05-20", "v": 1990, "t": "▫ 거래대금"}]}, "mark": {"type": "text", "align": "left", "baseline": "middle", "fontSize": 11, "color": "#333333"},
   "encoding": {"x": {"field": "d", "type": "ordinal"}, "y": {"field": "v", "type": "quantitative", "title": null}, "text": {"field": "t"}}},
  {"data": {"values": [{"d": "2023-08-03", "v": 1904}]}, "mark": {"type": "point", "shape": "M-1,-0.21L1,-0.21L1,0.21L-1,0.21Z", "size": 3136, "filled": true, "opacity": 1, "color": "#e022e0", "xOffset": 33},
   "encoding": {"x": {"field": "d", "type": "ordinal"}, "y": {"field": "v", "type": "quantitative", "title": null}}},
  {"data": {"values": [{"d": "2023-08-03", "v": 1904, "t": "1,829K", "c": "w"}, {"d": "2023-08-03", "v": 1673, "t": "277,00%", "c": "m"}, {"d": "2023-08-03", "v": -230, "t": "07/21", "c": "k"}]},
   "mark": {"type": "text", "align": "center", "baseline": "middle", "dx": 31, "fontSize": 12, "font": "Liberation Sans Narrow, Liberation Sans, sans-serif"},
   "encoding": {"x": {"field": "d", "type": "ordinal"}, "y": {"field": "v", "type": "quantitative", "title": null}, "text": {"field": "t"},
     "color": {"field": "c", "type": "nominal", "scale": {"domain": ["w","m","k"], "range": ["#ffffff","#d020d0","#222222"]}, "legend": null}}}
 ]
}
]
}
